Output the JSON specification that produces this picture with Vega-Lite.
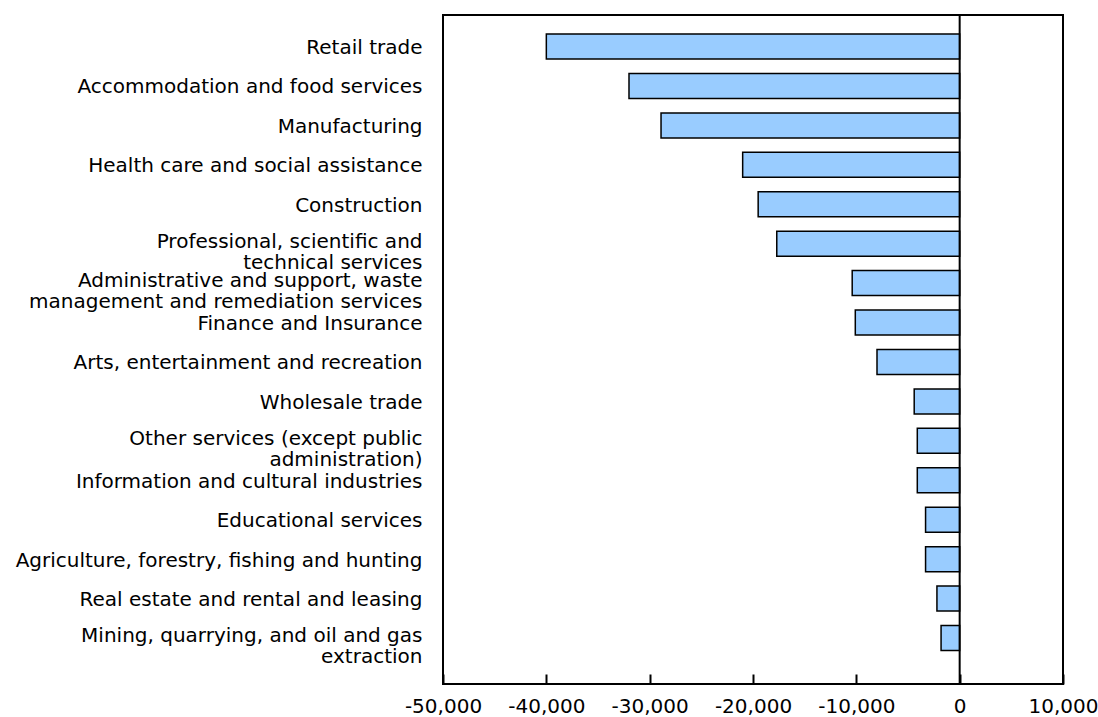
{
  "$schema": "https://vega.github.io/schema/vega-lite/v6.json",
  "autosize": "none",
  "width": 620,
  "height": 669,
  "padding": {"left": 443, "top": 15, "right": 35, "bottom": 33},
  "background": "white",
  "config": {
    "view": {"stroke": "black", "strokeWidth": 2},
    "font": "DejaVu Sans"
  },
  "data": {
    "values": [
      {"industry": "Retail trade", "change": -40000},
      {"industry": "Accommodation and food services", "change": -32000},
      {"industry": "Manufacturing", "change": -28900},
      {"industry": "Health care and social assistance", "change": -21000},
      {"industry": "Construction", "change": -19500},
      {"industry": "Professional, scientific and|technical services", "change": -17700},
      {"industry": "Administrative and support, waste|management and remediation services", "change": -10400},
      {"industry": "Finance and Insurance", "change": -10100},
      {"industry": "Arts, entertainment and recreation", "change": -8000},
      {"industry": "Wholesale trade", "change": -4400},
      {"industry": "Other services (except public|administration)", "change": -4100},
      {"industry": "Information and cultural industries", "change": -4100},
      {"industry": "Educational services", "change": -3300},
      {"industry": "Agriculture, forestry, fishing and hunting", "change": -3300},
      {"industry": "Real estate and rental and leasing", "change": -2200},
      {"industry": "Mining, quarrying, and oil and gas|extraction", "change": -1800}
    ]
  },
  "layer": [
    {
      "mark": {"type": "bar", "color": "#99CCFF", "stroke": "black", "strokeWidth": 1.5},
      "encoding": {
        "y": {
          "field": "industry",
          "type": "nominal",
          "sort": null,
          "scale": {"paddingInner": 0.366, "paddingOuter": 0.666, "align": 0.362},
          "axis": {
            "title": null,
            "domain": false,
            "ticks": false,
            "labelExpr": "split(datum.value, '|')",
            "labelFont": "DejaVu Sans",
            "labelFontSize": 20,
            "labelColor": "black",
            "labelPadding": 21,
            "labelBaseline": "alphabetic",
            "labelOffset": {"condition": {"test": "indexof(datum.value, '|') >= 0", "value": 4}, "value": 7.5},
            "labelLineHeight": 21,
            "labelLimit": 600
          }
        },
        "x": {
          "field": "change",
          "type": "quantitative",
          "scale": {"domain": [-50000, 10000], "nice": false},
          "axis": {
            "title": null,
            "domain": false,
            "grid": false,
            "values": [-50000, -40000, -30000, -20000, -10000, 0, 10000],
            "labelExpr": "(datum.value < 0 ? '-' : '') + format(abs(datum.value), ',.0f')",
            "tickSize": -10,
            "tickColor": "black",
            "tickWidth": 2,
            "labelFont": "DejaVu Sans",
            "labelFontSize": 20,
            "labelColor": "black",
            "labelPadding": 22,
            "labelFlush": false
          }
        }
      }
    },
    {
      "data": {"values": [{"zero": 0}]},
      "mark": {"type": "rule", "color": "black", "strokeWidth": 2},
      "encoding": {"x": {"field": "zero", "type": "quantitative"}}
    }
  ]
}
